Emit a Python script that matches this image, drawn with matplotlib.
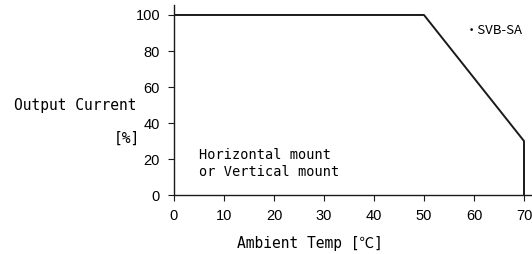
import matplotlib
matplotlib.use("Agg")
import matplotlib.pyplot as plt

# derating curve
temp = [0, 50, 70, 70]
current = [100, 100, 30, 0]
xticks = [0, 10, 20, 30, 40, 50, 60, 70]
yticks = [0, 20, 40, 60, 80, 100]

mono = ['DejaVu Sans Mono', 'Noto Sans CJK JP']
narrow = ['Liberation Sans Narrow', 'Liberation Sans', 'DejaVu Sans']

fig = plt.figure(figsize=(5.32, 2.54), dpi=100)
ax = fig.add_axes([0.327, 0.232, 0.673, 0.748])
ax.plot(temp, current, color='#1a1a1a', lw=1.4)

ax.set_xlim(0, 71.6)
ax.set_ylim(0, 105.5)
ax.set_xticks(xticks)
ax.set_yticks(yticks)
ax.spines['top'].set_visible(False)
ax.spines['right'].set_visible(False)
for s in ('left', 'bottom'):
    ax.spines[s].set_linewidth(1.0)
    ax.spines[s].set_color('#1a1a1a')
ax.tick_params(length=4, width=0.8, colors='#1a1a1a', labelcolor='black',
               labelsize=10.5, pad=6)
for lab in ax.get_xticklabels() + ax.get_yticklabels():
    lab.set_family(narrow)

fig.text(0.026, 0.585, 'Output Current', family=mono, fontsize=10.5, va='center', ha='left')
fig.text(0.263, 0.457, '[%]', family=mono, fontsize=10.5, va='center', ha='right')
ax.text(5, 26, 'Horizontal mount\nor Vertical mount', family=mono, fontsize=9.8,
        va='top', ha='left', linespacing=1.25)
fig.text(0.583, 0.04, 'Ambient Temp [℃]', family=mono, fontsize=10.5, va='center', ha='center')
fig.text(0.874, 0.88, '・SVB-SA', family=['Noto Sans CJK JP', 'DejaVu Sans'], fontsize=9.5,
         va='center', ha='left')

fig.savefig('out.png', dpi=100)
